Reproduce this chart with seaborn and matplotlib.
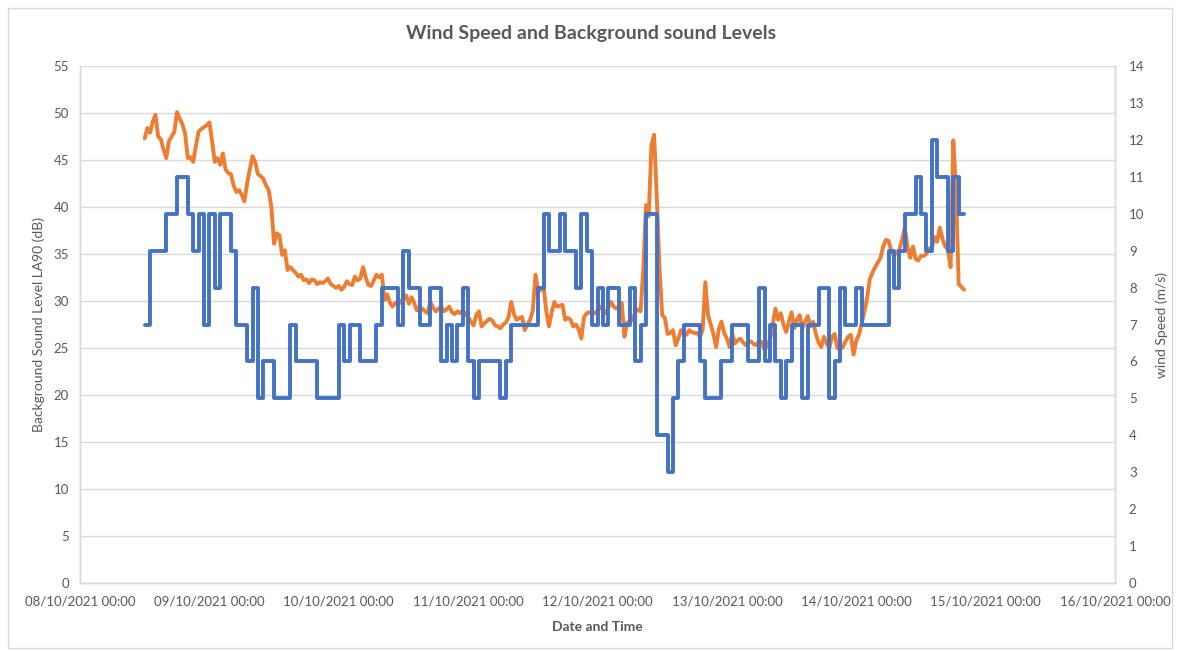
import numpy as np
import pandas as pd
import matplotlib
matplotlib.use("Agg")
import matplotlib.pyplot as plt
import matplotlib.dates as mdates
from matplotlib.patches import Rectangle
import seaborn as sns

# Background sound level LA90 (dB), one reading every 30 min from 08/10/2021 12:00
sound_start = "2021-10-08 12:00"
sound_db = [
    47.3, 48.4, 47.9, 49.1, 49.8, 47.5, 47.2, 46.1, 45.2, 47.0,
    47.5, 48.0, 50.1, 49.4, 48.8, 47.8, 45.2, 45.3, 44.8, 46.5,
    48.0, 48.3, 48.5, 48.7, 49.0, 47.0, 44.8, 45.2, 44.5, 45.7,
    44.0, 43.6, 43.5, 42.3, 41.6, 41.8, 41.3, 40.6, 42.5, 44.0,
    45.4, 44.8, 43.5, 43.3, 43.0, 42.3, 41.8, 40.0, 36.1, 37.2,
    37.0, 34.9, 35.4, 33.3, 33.6, 33.3, 33.0, 32.6, 32.8, 32.2,
    32.3, 31.9, 32.3, 32.2, 31.8, 32.0, 31.9, 32.1, 32.4, 31.8,
    31.6, 31.4, 31.6, 31.2, 31.5, 32.1, 31.8, 31.7, 32.6, 32.2,
    32.4, 33.6, 32.5, 31.7, 31.6, 32.2, 32.8, 32.5, 32.8, 30.1,
    30.7, 29.8, 29.4, 29.8, 29.6, 30.0, 30.2, 30.6, 29.7, 30.4,
    29.8, 29.0, 29.3, 29.2, 28.9, 28.7, 29.9, 29.3, 28.9, 29.2,
    29.4, 28.9, 29.1, 29.4, 28.8, 28.6, 28.9, 28.7, 29.0, 28.6,
    28.3, 27.8, 27.4, 28.5, 28.9, 27.3, 27.6, 27.9, 28.1, 27.9,
    27.4, 27.3, 27.1, 27.5, 27.7, 28.3, 29.9, 28.6, 28.0, 28.2,
    28.3, 26.9, 27.5, 28.0, 29.0, 32.8, 31.0, 31.2, 31.5, 28.9,
    27.3, 28.8, 29.9, 29.4, 29.5, 29.6, 28.0, 28.2, 28.0, 27.3,
    27.5, 27.0, 26.0, 28.3, 28.7, 28.8, 28.6, 28.7, 29.0, 29.4,
    29.0, 28.7, 29.3, 29.9, 29.4, 29.2, 29.5, 29.8, 26.2, 27.7,
    27.8, 28.0, 28.8, 29.1, 28.9, 33.5, 40.2, 39.0, 46.5, 47.7,
    41.0, 33.5, 28.5, 28.2, 26.5, 26.6, 26.9, 25.3, 26.0, 26.9,
    26.5, 26.4, 26.9, 26.7, 26.6, 26.6, 26.2, 26.9, 32.0, 28.5,
    27.5, 26.5, 25.1, 27.0, 27.8, 26.6, 26.0, 25.1, 26.5, 25.5,
    25.8, 26.0, 25.6, 25.3, 25.6, 25.7, 25.4, 25.3, 25.8, 25.6,
    24.8, 25.3, 25.9, 27.5, 29.2, 28.0, 28.7, 27.5, 26.7, 27.8,
    28.8, 27.1, 28.0, 28.5, 27.1, 27.8, 28.4, 27.3, 27.8, 26.5,
    25.6, 25.1, 26.2, 25.5, 25.0, 26.2, 26.5, 25.0, 24.8, 25.1,
    25.7, 26.2, 26.4, 24.3, 25.8, 26.4, 27.6, 28.8, 30.3, 32.3,
    33.0, 33.6, 34.1, 34.6, 35.8, 36.5, 36.4, 35.3, 34.9, 35.1,
    35.5, 36.5, 37.8, 35.8, 34.6, 35.8, 34.5, 34.3, 34.8, 34.8,
    35.0, 35.6, 35.6, 36.8, 36.3, 37.8, 36.6, 35.8, 35.5, 33.6,
    47.1, 42.0, 31.8, 31.5, 31.2,
]

# Wind speed (m/s), hourly from 08/10/2021 12:00
wind_start = "2021-10-08 12:00"
wind_ms = [
    7, 9, 9, 9, 10, 10, 11, 11, 10, 9, 10, 7,
    10, 8, 10, 10, 9, 7, 7, 6, 8, 5, 6, 6,
    5, 5, 5, 7, 6, 6, 6, 6, 5, 5, 5, 5,
    7, 6, 7, 7, 6, 6, 6, 7, 8, 8, 8, 7,
    9, 8, 8, 7, 7, 8, 8, 6, 7, 6, 7, 8,
    6, 5, 6, 6, 6, 6, 5, 6, 7, 7, 7, 7,
    7, 8, 10, 9, 9, 10, 9, 9, 8, 10, 9, 7,
    8, 7, 8, 8, 7, 7, 8, 6, 7, 10, 10, 4,
    4, 3, 5, 6, 7, 7, 7, 6, 5, 5, 5, 6,
    6, 7, 7, 7, 6, 6, 8, 6, 7, 6, 5, 6,
    7, 7, 5, 7, 7, 8, 8, 5, 6, 8, 7, 7,
    8, 7, 7, 7, 7, 7, 9, 8, 9, 10, 10, 11,
    10, 9, 12, 11, 11, 9, 11, 10,
]

x_start = "2021-10-08"
x_end = "2021-10-16"

BLUE = "#4472C4"
ORANGE = "#ED7D31"
TEXT = "#595959"
GRID = "#D9D9D9"

sound_df = pd.DataFrame({
    "time": pd.date_range(sound_start, periods=len(sound_db), freq="30min"),
    "level": sound_db,
})
# repeat the last reading so the final hour is drawn as a step
wind_vals = wind_ms + [wind_ms[-1]]
wind_df = pd.DataFrame({
    "time": pd.date_range(wind_start, periods=len(wind_vals), freq="h"),
    "speed": wind_vals,
})

sns.set_theme(style="white")
plt.rcParams["font.family"] = ["Lato", "DejaVu Sans"]

fig = plt.figure(figsize=(11.82, 6.51), dpi=100)
ax = fig.add_axes([80 / 1182, 1 - 583 / 651, (1115 - 80) / 1182, (583 - 66) / 651])
ax2 = ax.twinx()

sns.lineplot(data=sound_df, x="time", y="level", ax=ax, color=ORANGE,
             linewidth=2.8, solid_joinstyle="round", solid_capstyle="round")
sns.lineplot(data=wind_df, x="time", y="speed", ax=ax2, color=BLUE,
             linewidth=2.8, drawstyle="steps-post", solid_joinstyle="round",
             solid_capstyle="round")

ax.set_xlim(pd.Timestamp(x_start), pd.Timestamp(x_end))
ax.set_ylim(0, 55)
ax.set_yticks(np.arange(0, 56, 5))
ax2.set_ylim(0, 14)
ax2.set_yticks(np.arange(0, 15, 1))

ax.xaxis.set_major_locator(mdates.DayLocator())
ax.xaxis.set_major_formatter(mdates.DateFormatter("%d/%m/%Y %H:%M"))

ax.grid(axis="y", color=GRID, linewidth=1)
ax.set_axisbelow(True)

for a in (ax, ax2):
    a.spines["top"].set_visible(False)
    for side in ("left", "right", "bottom"):
        a.spines[side].set_color(GRID)
        a.spines[side].set_linewidth(1)

ax.tick_params(axis="x", colors=TEXT, labelsize=9.5, length=5, width=1,
               color=GRID, direction="out", pad=4)
ax.tick_params(axis="y", colors=TEXT, labelsize=9.5, length=0, pad=8)
ax2.tick_params(axis="y", colors=TEXT, labelsize=9.5, length=0, pad=10)

ax.set_xlabel("Date and Time", color=TEXT, fontsize=10, fontweight="bold", labelpad=10)
ax.set_ylabel("Background Sound Level LA90 (dB)", color=TEXT, fontsize=10, labelpad=6)
ax2.set_ylabel("wind Speed (m/s)", color=TEXT, fontsize=10, labelpad=8)

fig.text(0.5, 1 - 33 / 651, "Wind Speed and Background sound Levels", ha="center",
         va="center", color=TEXT, fontsize=14, fontweight="bold")

# light chart border like the spreadsheet chart area
fig.patches.append(Rectangle((8 / 1182, 3 / 651), 1164 / 1182, 640 / 651,
                             transform=fig.transFigure, fill=False,
                             edgecolor=GRID, linewidth=1))

fig.savefig("out.png", dpi=100)
